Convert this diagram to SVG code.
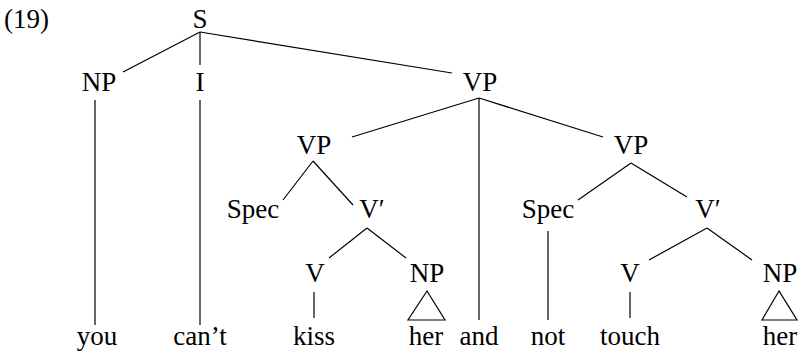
<svg xmlns="http://www.w3.org/2000/svg" width="801" height="352" viewBox="0 0 801 352">
<style>
text{font-family:"Liberation Serif","Times New Roman",serif;font-size:27px;fill:#000;text-anchor:middle}
.l{stroke:#000;stroke-width:1.2;fill:none}
</style>
<rect width="801" height="352" fill="#fff"/>
<text x="4" y="28" style="text-anchor:start">(19)</text>
<g id="connectors" class="l">
<line x1="200" y1="32" x2="123" y2="72"/>
<line x1="200" y1="32" x2="200" y2="65"/>
<line x1="200" y1="32" x2="452" y2="73"/>
<line x1="95" y1="100" x2="95" y2="325"/>
<line x1="200" y1="100" x2="200" y2="325"/>
<line x1="479" y1="98" x2="352" y2="137"/>
<line x1="479" y1="98" x2="603" y2="137"/>
<line x1="479" y1="98" x2="479" y2="320"/>
<line x1="313" y1="161" x2="283" y2="200"/>
<line x1="313" y1="161" x2="353" y2="205"/>
<line x1="367" y1="228" x2="329" y2="258"/>
<line x1="367" y1="228" x2="406" y2="258"/>
<line x1="314" y1="292" x2="314" y2="318"/>
<polygon points="427,291 408,320 445,320"/>
<line x1="631" y1="163" x2="578" y2="200"/>
<line x1="631" y1="163" x2="687" y2="197"/>
<line x1="548" y1="231" x2="548" y2="320"/>
<line x1="707" y1="228" x2="649" y2="260"/>
<line x1="707" y1="228" x2="752" y2="260"/>
<line x1="630" y1="292" x2="630" y2="318"/>
<polygon points="779,291 762,320 797,320"/>
</g>
<g id="S"><text x="200" y="27.5">S</text></g>
<g id="NP1"><text x="99" y="90.5">NP</text></g>
<g id="I"><text x="200" y="90.5">I</text></g>
<g id="VP0"><text x="480" y="90.5">VP</text></g>
<g id="VP1"><text x="314" y="153.5">VP</text></g>
<g id="VP2"><text x="631" y="153.5">VP</text></g>
<g id="Spec1"><text x="253" y="218">Spec</text></g>
<g id="Vbar1"><text x="372" y="218">V′</text></g>
<g id="Spec2"><text x="548" y="218">Spec</text></g>
<g id="Vbar2"><text x="708" y="218">V′</text></g>
<g id="V1"><text x="315" y="282">V</text></g>
<g id="NP2"><text x="427" y="282">NP</text></g>
<g id="V2"><text x="630" y="282">V</text></g>
<g id="NP3"><text x="780" y="282">NP</text></g>
<g id="you"><text x="97" y="345">you</text></g>
<g id="cant"><text x="200" y="345">can’t</text></g>
<g id="kiss"><text x="314" y="345">kiss</text></g>
<g id="her1"><text x="426" y="345">her</text></g>
<g id="and"><text x="479" y="345">and</text></g>
<g id="not"><text x="548" y="345">not</text></g>
<g id="touch"><text x="630" y="345">touch</text></g>
<g id="her2"><text x="780" y="345">her</text></g>
</svg>
